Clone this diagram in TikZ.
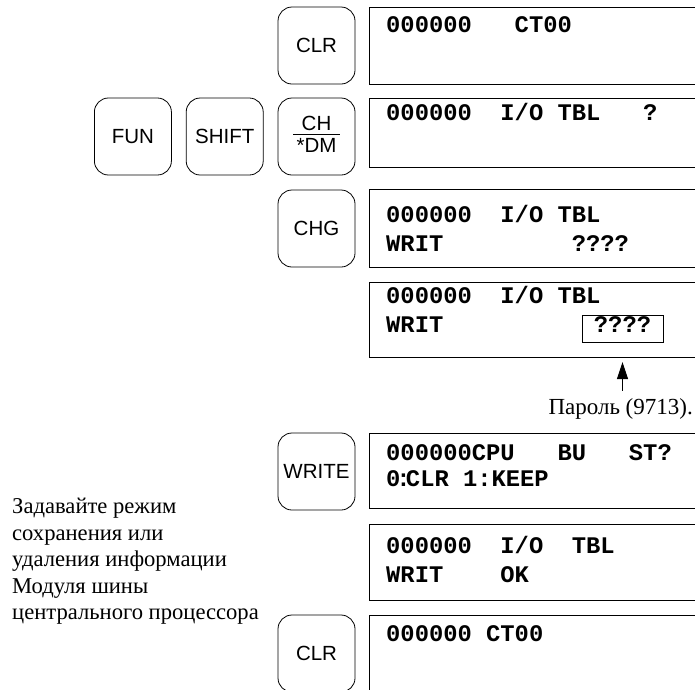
\documentclass[tikz,border=0pt]{standalone}
\usepackage{fontspec}
\setmainfont{Liberation Serif}
\newfontfamily\keyface{Liberation Sans}
\newfontfamily\lcdface{Liberation Mono}
\usetikzlibrary{arrows.meta, positioning}

\begin{document}
\begin{tikzpicture}[x=1pt, y=-1pt,
    key/.style={draw, rounded corners=14pt, minimum width=77pt, minimum height=77pt,
                inner sep=0pt, line width=0.8pt, font=\keyface\fontsize{20.5}{24}\selectfont},
    lcdbox/.style={draw, anchor=north west, minimum width=400pt, line width=1.1pt, inner sep=0pt},
    lcd/.style={anchor=base west, inner sep=0pt, font=\lcdface\bfseries\fontsize{23.8}{28}\selectfont},
    note/.style={inner sep=0pt, font=\fontsize{22.6}{26.5}\selectfont},
    pwarrow/.style={-{Triangle[length=17pt, width=11pt]}, line width=1pt}
]
\useasboundingbox (0,0) rectangle (695,689);
\clip (0,0) rectangle (695,689);

% keys
\node[key] (clrA) at (316.5,45.5) {CLR};
\node[key] (chdm) at (316.5,136.5) {\setlength\arrayrulewidth{1pt}%
    \begin{tabular}{@{\,}c@{\,}}CH\\[-3pt]\hline\rule{0pt}{17pt}*DM\end{tabular}};
\node[key, left=14pt of chdm] (shift) {SHIFT};
\node[key, left=14pt of shift] (fun) {FUN};
\node[key] (chg) at (316.5,228.5) {CHG};
\node[key] (write) at (316.5,471.5) {WRITE};
\node[key] (clrB) at (316.5,653.5) {CLR};

% displays
\node[lcdbox, minimum height=77pt] (d1) at (369,7) {};
\node[lcdbox, minimum height=69pt] (d2) at (369,98) {};
\node[lcdbox, minimum height=78pt] (d3) at (369,189) {};
\node[lcdbox, minimum height=75pt] (d4) at (369,282) {};
\node[lcdbox, minimum height=75pt] (d5) at (369,433) {};
\node[lcdbox, minimum height=76pt] (d6) at (369,524) {};
\node[lcdbox, minimum height=90pt] (d7) at (369,615) {};

\node[lcd] (d1a) at (386,32) {000000~~~CT00};
\node[lcd] (d2a) at (386,120) {000000~~I/O~TBL~~~?};
\node[lcd] (d3a) at (386,222) {000000~~I/O~TBL};
\node[lcd] (d3b) at (386,251) {WRIT~~~~~~~~~????};
\node[lcd] (d4a) at (386,303) {000000~~I/O~TBL};
\node[lcd] (d4b) at (386,332) {WRIT};
\node[lcd, draw, anchor=base, text height=17pt, text depth=10pt, minimum width=81pt,
      line width=0.8pt] (qbox) at (622.5,332) {????};
\node[lcd] (d5a) at (386,460) {000000CPU~~~BU~~~ST?};
\node[lcd] (d5b) at (386,486) {0\kern-.17em:\kern-.2em CLR~1:KEEP};
\node[lcd] (d6a) at (386,553) {000000~~I/O~~TBL};
\node[lcd] (d6b) at (386,582) {WRIT~~~~OK};
\node[lcd] (d7a) at (386,641) {000000~CT00};

% notes
\node[note, anchor=base east, font=\fontsize{23}{27}\selectfont] (pw) at (693,414) {Пароль (9713).};
\draw[pwarrow, shorten <=7pt, shorten >=4pt] (pw.north -| qbox.south) -- (qbox.south |- d4.south);
\node[note, align=left, anchor=north west] (mode) at (12,498)
    {Задавайте режим\\сохранения или\\удаления информации\\Модуля шины\\центрального процессора};
\end{tikzpicture}
\end{document}
